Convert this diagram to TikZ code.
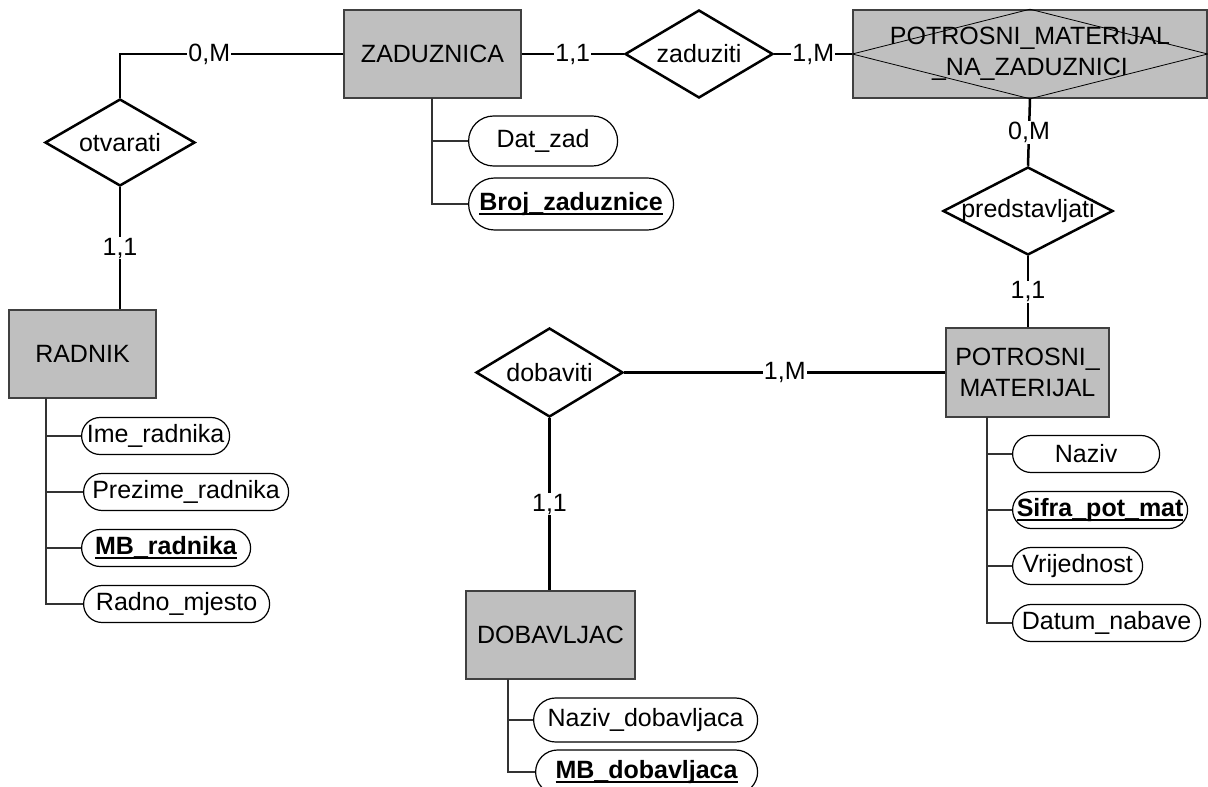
\documentclass[tikz,border=0pt]{standalone}
\usepackage{fontspec}
\setmainfont{Liberation Sans}
\usetikzlibrary{shapes.geometric}
\newcommand{\kljuc}[1]{\setbox0\hbox{\textbf{#1}}\rlap{\rule[-4.5pt]{\wd0}{2.2pt}}\box0}

\begin{document}
\begin{tikzpicture}[x=1pt, y=-1pt,
    font=\fontsize{25}{31}\selectfont,
    entity/.style={draw=black!75, line width=1.5pt, fill=black!25, inner sep=0pt, align=center, minimum height=88pt},
    relation/.style={diamond, draw, line width=2.5pt, fill=white, inner sep=0pt, aspect=1.7},
    attrib/.style={draw, line width=1.2pt, fill=white, inner sep=0pt, anchor=west, minimum height=37pt, rounded corners=18.5pt},
    link/.style={line width=2.5pt},
    branch/.style={line width=1.5pt, black!80},
    card/.style={fill=white, inner sep=1pt}]
      \useasboundingbox (0,0) rectangle (1208,787);

      % entiteti
      \node[entity, minimum width=177pt] (zaduznica) at (432.5,54) {ZADUZNICA};
      \node[entity, minimum width=147pt] (radnik) at (82.5,354) {RADNIK};
      \node[entity, minimum width=354pt] (pmnz) at (1030,54) {POTROSNI\_MATERIJAL\\\_NA\_ZADUZNICI};
      \draw[line width=0.8pt] (pmnz.west) -- (pmnz.north) -- (pmnz.east) -- (pmnz.south) -- cycle;
      \node[entity, minimum width=163pt, minimum height=89pt] (pm) at (1027.5,372.5) {POTROSNI\_\\MATERIJAL};
      \node[entity, minimum width=169pt] (dobavljac) at (550.5,635) {DOBAVLJAC};

      % veze
      \node[relation, minimum width=150pt, minimum height=87pt] (otvarati) at (120,142.5) {otvarati};
      \node[relation, minimum width=148pt, minimum height=88pt] (zaduziti) at (699,54) {zaduziti};
      \node[relation, minimum width=170pt, minimum height=88pt, aspect=1.93, inner xsep=-14pt] (predstavljati) at (1028,211) {predstavljati};
      \node[relation, minimum width=147pt, minimum height=89pt] (dobaviti) at (549.5,372.5) {dobaviti};

      \draw[link] (zaduznica.west) -| node[card, pos=0.3] {0,M} (otvarati.north);
      \draw[link] (otvarati.south) -- node[card] {1,1} (otvarati.south |- radnik.north);
      \draw[link] (zaduznica.east) -- node[card] {1,1} (zaduziti.west);
      \draw[link] (zaduziti.east) -- node[card] {1,M} (pmnz.west);
      \draw[link] (pmnz.south) -- node[card] {0,M} (predstavljati.north);
      \draw[link] (predstavljati.south) -- node[card] {1,1} (predstavljati.south |- pm.north);
      \draw[link] (dobaviti.east) -- node[card] {1,M} (pm.west);
      \draw[link] (dobaviti.south) -- node[card] {1,1} (dobaviti.south |- dobavljac.north);

      % atributi
      \node[attrib, minimum width=149pt, minimum height=50pt, rounded corners=25pt] (datzad) at (468,141) {Dat\_zad};
      \node[attrib, minimum width=205pt, minimum height=52pt, rounded corners=26pt] (brojzad) at (468,204) {\kljuc{Broj\_zaduznice}};
      \coordinate (zt) at (432,98);
      \draw[branch] (zt) |- (datzad.west);
      \draw[branch] (zt) |- (brojzad.west);

      \node[attrib, minimum width=148pt] (ime) at (81,436) {Ime\_radnika};
      \node[attrib, minimum width=205pt] (prezime) at (83,492) {Prezime\_radnika};
      \node[attrib, minimum width=169pt] (mbradnika) at (81,548) {\kljuc{MB\_radnika}};
      \node[attrib, minimum width=186pt] (radnomjesto) at (83,604) {Radno\_mjesto};
      \coordinate (rt) at (46,398);
      \draw[branch] (rt) |- (ime.west);
      \draw[branch] (rt) |- (prezime.west);
      \draw[branch] (rt) |- (mbradnika.west);
      \draw[branch] (rt) |- (radnomjesto.west);

      \node[attrib, minimum width=147pt] (naziv) at (1012,454) {Naziv};
      \node[attrib, minimum width=175pt] (sifra) at (1012,510) {\kljuc{Sifra\_pot\_mat}};
      \node[attrib, minimum width=130pt] (vrijednost) at (1012,566) {Vrijednost};
      \node[attrib, minimum width=188pt] (datum) at (1012,623) {Datum\_nabave};
      \coordinate (pt) at (987,417);
      \draw[branch] (pt) |- (naziv.west);
      \draw[branch] (pt) |- (sifra.west);
      \draw[branch] (pt) |- (vrijednost.west);
      \draw[branch] (pt) |- (datum.west);

      \node[attrib, minimum width=224pt, minimum height=44pt, rounded corners=22pt] (nazivdob) at (533,720) {Naziv\_dobavljaca};
      \node[attrib, minimum width=222pt, minimum height=44pt, rounded corners=22pt] (mbdob) at (535,772) {\kljuc{MB\_dobavljaca}};
      \coordinate (dt) at (508,679);
      \draw[branch] (dt) |- (nazivdob.west);
      \draw[branch] (dt) |- (mbdob.west);
    \end{tikzpicture}
\end{document}
